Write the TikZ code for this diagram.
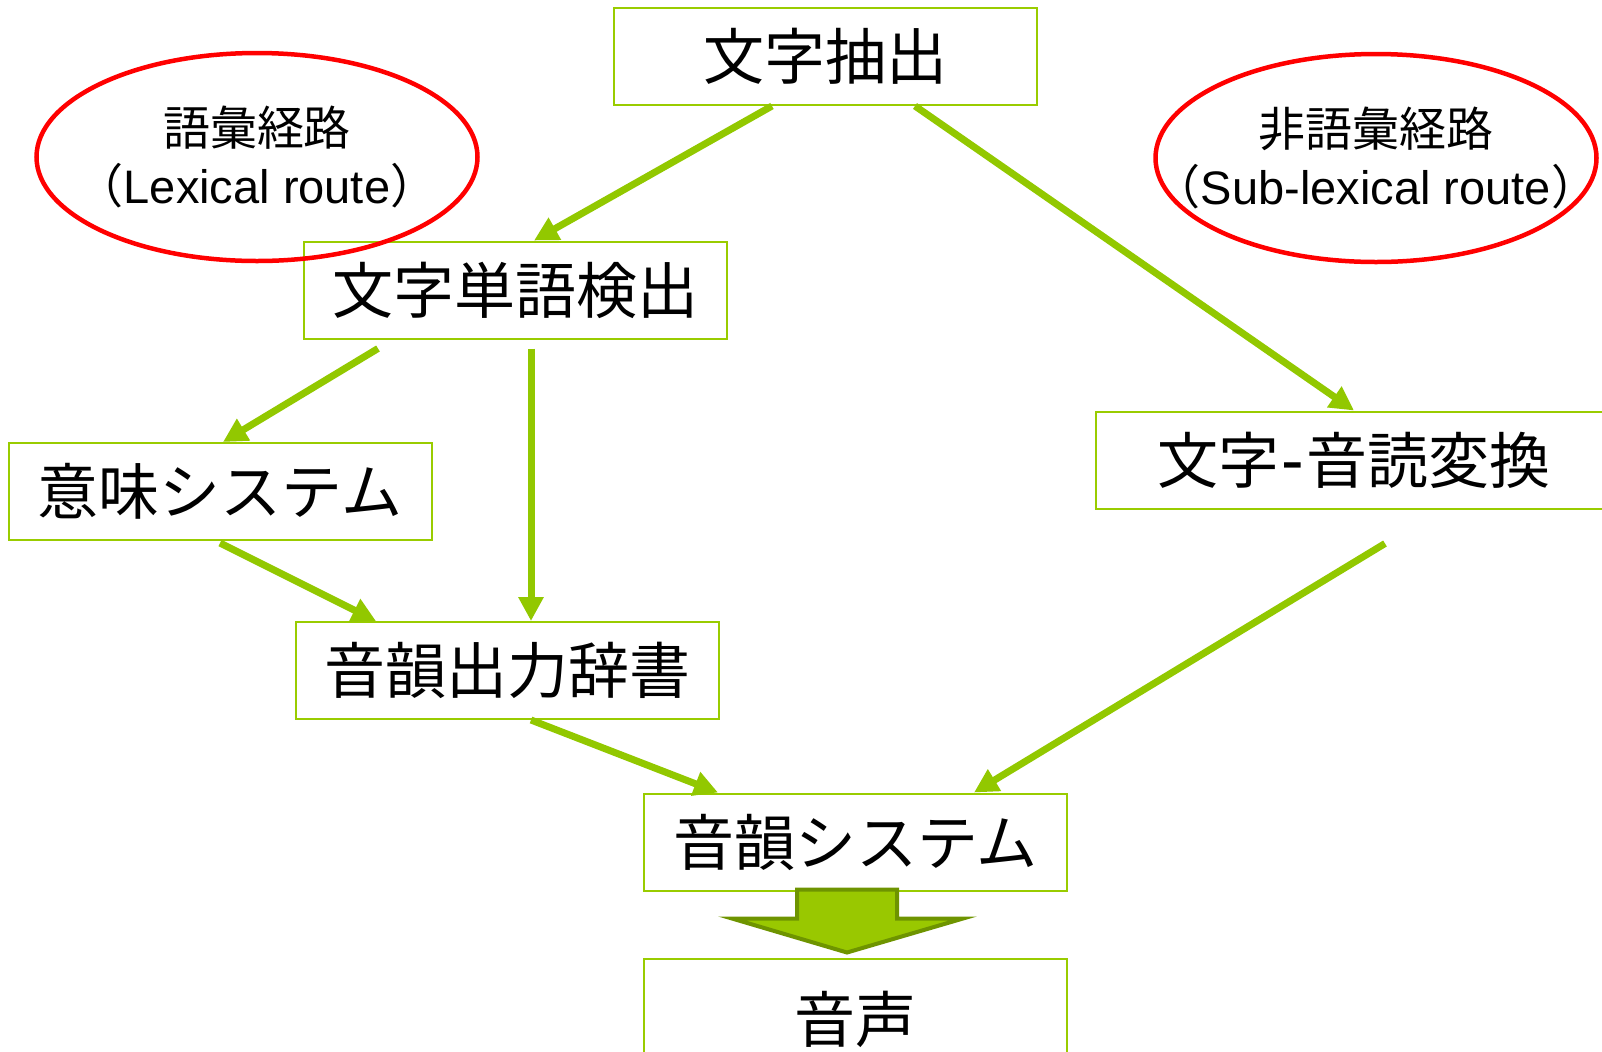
\documentclass[tikz,border=0pt]{standalone}
\usepackage{fontspec}
\setmainfont{Liberation Sans}
\newfontfamily\cjk{Noto Sans CJK JP}
\usetikzlibrary{arrows.meta,shapes.geometric,calc}
\definecolor{boxgreen}{HTML}{99CC00}
\definecolor{arrgreen}{HTML}{92C800}
\definecolor{bigfill}{HTML}{99C800}
\definecolor{bigline}{HTML}{6E9400}
\newcommand{\lpar}{\makebox[0.5em][r]{\cjk （}}
\newcommand{\rpar}{\makebox[0.5em][l]{\cjk ）}}
\begin{document}
\begin{tikzpicture}[x=0.5pt,y=-0.5pt,
  box/.style={draw=boxgreen,line width=1pt,inner sep=0pt,
    minimum width=423*0.5pt,minimum height=97*0.5pt,
    font=\cjk\fontsize{30.5pt}{35pt}\selectfont},
  route/.style={ellipse,draw=red,line width=2.25pt,inner ysep=0pt,inner xsep=-30pt,
    minimum width=441*0.5pt,minimum height=208*0.5pt,align=center,
    font=\fontsize{23.5pt}{29pt}\selectfont},
  arr/.style={draw=arrgreen,line width=3.5pt,-{Triangle[length=12pt,width=12pt]}},
  bigarrow/.style={fill=bigfill,draw=bigline,line width=2pt,line join=miter}]
\useasboundingbox (0,0) rectangle (1602,1051);
\clip (0,0) rectangle (1602,1051);

\node[box] (t1) at (825,56.5) {文字抽出};
\node[box] (t2) at (515.5,290) {文字単語検出};
\node[box] (t3) at (220,491.5) {意味システム};
\node[box] (t4) at (507.5,670.5) {音韻出力辞書};
\node[box,minimum width=516*0.5pt] (t5) at (1354,460) {文字\makebox[0.45em]{\fontspec{Liberation Sans}\fontsize{34pt}{35pt}\selectfont -}音読変換};
\node[box] (t6) at (855.5,842) {音韻システム};
\node[box,minimum height=120*0.5pt] (t7) at (855.5,1019) {音声};

\node[route] (e1) at (257,157) {{\cjk\fontsize{23.5pt}{29pt}\selectfont 語彙経路}\\\lpar Lexical route\rpar};
\node[route] (e2) at (1376,158) {{\cjk\fontsize{23.5pt}{29pt}\selectfont 非語彙経路}\\\lpar Sub-lexical route\rpar};

\draw[arr] ($(t1.south)+(-53,0)$) -- ($(t2.north)+(18.5,0)$);
\draw[arr] ($(t1.south)+(90,0)$) -- ($(t5.north)+(0,0)$);
\draw[arr] ($(t2.south)+(-137.5,9)$) -- ($(t3.north)+(3,0)$);
\draw[arr] ($(t2.south)+(15.5,9)$) -- ($(t4.north)+(23.5,0)$);
\draw[arr] ($(t3.south)+(0,2)$) -- ($(t4.north)+(-131.5,0)$);
\draw[arr] ($(t4.south)+(23.5,0)$) -- ($(t6.north)+(-137.5,0)$);
\draw[arr] ($(t5.south)+(31,34)$) -- ($(t6.north)+(118.5,0)$);

\coordinate (ba) at ($(t6.south)+(-8.5,-2)$);
\draw[bigarrow] ($(ba)+(-50,0)$) -- ($(ba)+(50,0)$) -- ($(ba)+(50,29)$)
  -- ($(ba)+(116,29)$) -- ($(ba)+(0,63)$) -- ($(ba)+(-115,29)$)
  -- ($(ba)+(-50,29)$) -- cycle;
\end{tikzpicture}
\end{document}
